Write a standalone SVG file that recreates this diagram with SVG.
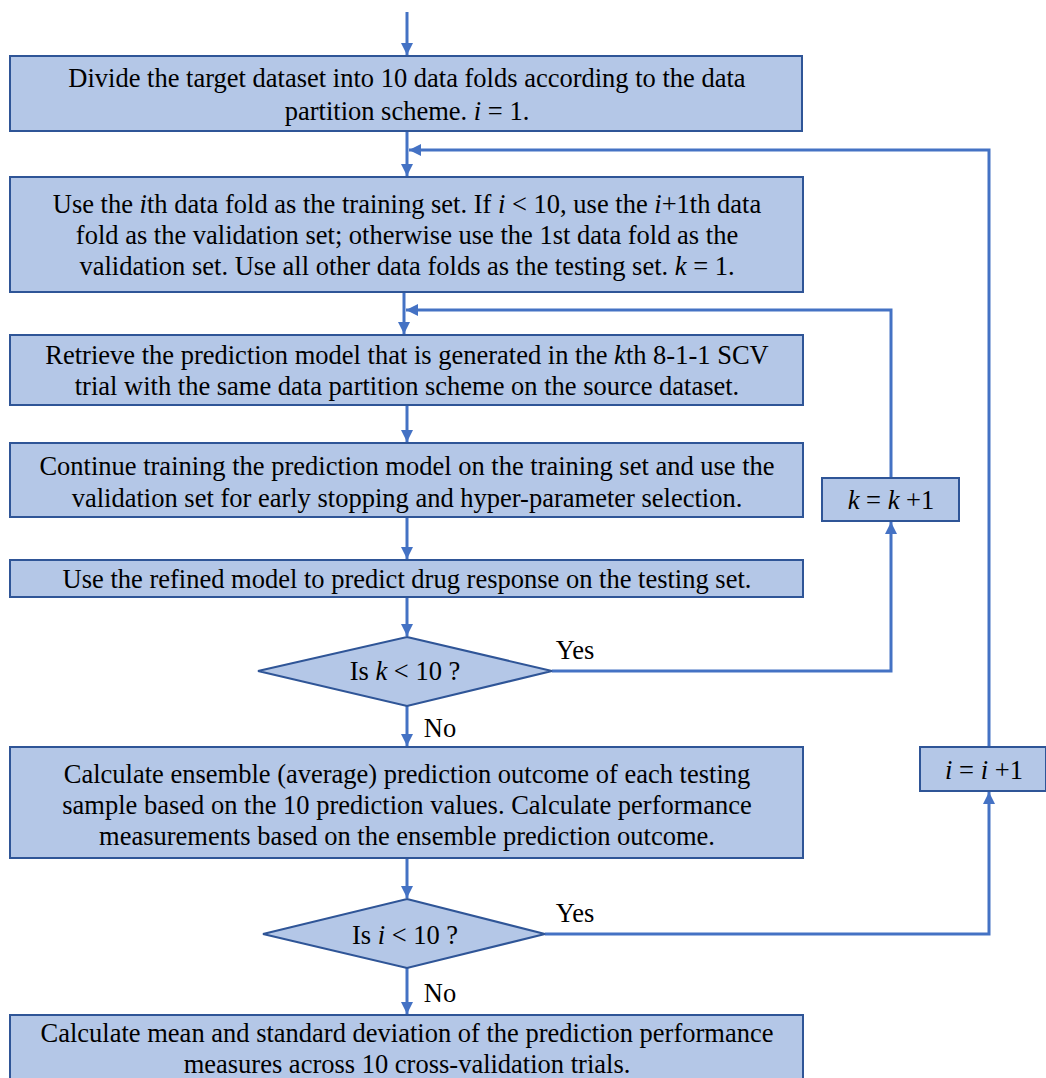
<svg xmlns="http://www.w3.org/2000/svg" width="1046" height="1078" viewBox="0 0 1046 1078">
<defs>
<style>
.box{fill:#B4C7E7;stroke:#2F5597;stroke-width:2}
.ln{fill:none;stroke:#4472C4;stroke-width:3}
text{font-family:"Liberation Serif","Times New Roman",serif;font-size:26.5px;fill:#000;text-anchor:middle}
.it{font-style:italic}
</style>
<marker id="ah" viewBox="0 0 10 10" refX="10" refY="5" markerWidth="4" markerHeight="4" orient="auto" markerUnits="strokeWidth">
<path d="M0,0 L10,5 L0,10 z" fill="#4472C4"/>
</marker>
</defs>
<rect width="1046" height="1078" fill="#fff"/>
<g id="connectors">
<line class="ln" x1="407" y1="12" x2="407" y2="55" marker-end="url(#ah)"/>
<line class="ln" x1="407" y1="132" x2="407" y2="176" marker-end="url(#ah)"/>
<polyline class="ln" points="989,747 989,150 409,150" marker-end="url(#ah)"/>
<line class="ln" x1="404" y1="293" x2="404" y2="334" marker-end="url(#ah)"/>
<polyline class="ln" points="891,478 891,310 406,310" marker-end="url(#ah)"/>
<line class="ln" x1="407" y1="406" x2="407" y2="442" marker-end="url(#ah)"/>
<line class="ln" x1="407" y1="518" x2="407" y2="559" marker-end="url(#ah)"/>
<line class="ln" x1="407" y1="598" x2="407" y2="636" marker-end="url(#ah)"/>
<polyline class="ln" points="552,671 891,671 891,522" marker-end="url(#ah)"/>
<line class="ln" x1="407" y1="706" x2="407" y2="746" marker-end="url(#ah)"/>
<line class="ln" x1="407" y1="859" x2="407" y2="898" marker-end="url(#ah)"/>
<polyline class="ln" points="545,934 989,934 989,792" marker-end="url(#ah)"/>
<line class="ln" x1="407" y1="968" x2="407" y2="1014" marker-end="url(#ah)"/>
<text x="575" y="659">Yes</text>
<text x="440" y="737">No</text>
<text x="575" y="922">Yes</text>
<text x="440" y="1002">No</text>
</g>
<g id="n1">
<rect class="box" x="10" y="56" width="792" height="75"/>
<text x="407" y="87">Divide the target dataset into 10 data folds according to the data</text>
<text x="407" y="120">partition scheme. <tspan class="it">i</tspan> = 1.</text>
</g>
<g id="n2">
<rect class="box" x="10" y="177" width="793" height="115"/>
<text x="407" y="213">Use the <tspan class="it">i</tspan>th data fold as the training set. If <tspan class="it">i</tspan> &lt; 10, use the <tspan class="it">i</tspan>+1th data</text>
<text x="407" y="244">fold as the validation set; otherwise use the 1st data fold as the</text>
<text x="407" y="275">validation set. Use all other data folds as the testing set. <tspan class="it">k</tspan> = 1.</text>
</g>
<g id="n3">
<rect class="box" x="10" y="335" width="793" height="70"/>
<text x="407" y="364">Retrieve the prediction model that is generated in the <tspan class="it">k</tspan>th 8-1-1 SCV</text>
<text x="407" y="395">trial with the same data partition scheme on the source dataset.</text>
</g>
<g id="n4">
<rect class="box" x="10" y="443" width="793" height="74"/>
<text x="407" y="475">Continue training the prediction model on the training set and use the</text>
<text x="407" y="507">validation set for early stopping and hyper-parameter selection.</text>
</g>
<g id="nk">
<rect class="box" x="822" y="478" width="137" height="43"/>
<text x="891" y="509"><tspan class="it">k</tspan> = <tspan class="it">k</tspan> +1</text>
</g>
<g id="n5">
<rect class="box" x="10" y="560" width="793" height="37"/>
<text x="407" y="588">Use the refined model to predict drug response on the testing set.</text>
</g>
<g id="d1">
<polygon class="box" points="407,637 552,671 407,706 258,671"/>
<text x="405" y="680">Is <tspan class="it">k</tspan> &lt; 10 ?</text>
</g>
<g id="n6">
<rect class="box" x="10" y="747" width="793" height="111"/>
<text x="407" y="783">Calculate ensemble (average) prediction outcome of each testing</text>
<text x="407" y="814">sample based on the 10 prediction values. Calculate performance</text>
<text x="407" y="845">measurements based on the ensemble prediction outcome.</text>
</g>
<g id="ni">
<rect class="box" x="920" y="747" width="126" height="44"/>
<text x="984" y="779"><tspan class="it">i</tspan> = <tspan class="it">i</tspan> +1</text>
</g>
<g id="d2">
<polygon class="box" points="407,899 545,934 407,968 263,934"/>
<text x="405" y="944">Is <tspan class="it">i</tspan> &lt; 10 ?</text>
</g>
<g id="n7">
<rect class="box" x="10" y="1015" width="793" height="70"/>
<text x="407" y="1042">Calculate mean and standard deviation of the prediction performance</text>
<text x="407" y="1073">measures across 10 cross-validation trials.</text>
</g>
</svg>
